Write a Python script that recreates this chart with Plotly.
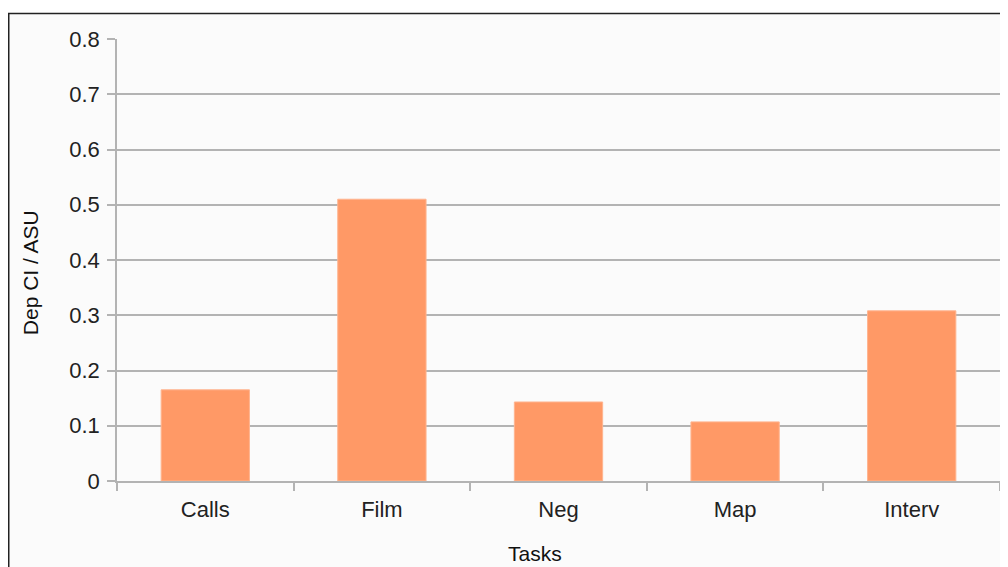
import plotly.graph_objects as go

tasks = ["Calls", "Film", "Neg", "Map", "Interv"]
dep_ci_asu = [0.165, 0.510, 0.143, 0.107, 0.308]
y_ticks = [0, 0.1, 0.2, 0.3, 0.4, 0.5, 0.6, 0.7, 0.8]
y_tick_labels = ["0", "0.1", "0.2", "0.3", "0.4", "0.5", "0.6", "0.7", "0.8"]

FONT = "Liberation Sans, Arial, sans-serif"
GRID = "#b3b3b3"

fig = go.Figure()
fig.add_trace(go.Bar(
    x=tasks, y=dep_ci_asu, width=0.5,
    marker=dict(color="#ff9966", line=dict(color="#ffb48f", width=1)),
))

# page has an 8px body margin, so figure coords = screen coords - 8
OFF = 8
W, H = 1000, 559
ml, mr, mt, mb = 117 - OFF, 6, 39 - OFF, 86
pw, ph = W - ml - mr, H - mt - mb

def px_x(p):
    return (p - OFF - ml) / pw

def px_y(p):
    return (H - mb - (p - OFF)) / ph

fig.update_layout(
    width=W, height=H,
    margin=dict(l=ml, r=mr, t=mt, b=mb),
    paper_bgcolor="white",
    plot_bgcolor="#fcfcfc",
    showlegend=False,
    font=dict(family=FONT, size=22, color="#222222"),
    xaxis=dict(
        type="category", range=[-0.5, 4.5],
        showline=True, linecolor=GRID, linewidth=1.5,
        ticks="outside", tickson="boundaries", ticklen=8,
        tickcolor=GRID, tickwidth=1.5,
        showgrid=False, ticklabelstandoff=8,
        tickfont=dict(family=FONT, size=22, color="#222222"),
    ),
    yaxis=dict(
        range=[0, 0.8], tickvals=y_ticks, ticktext=y_tick_labels,
        showline=True, mirror=True, linecolor=GRID, linewidth=1.5,
        ticks="outside", ticklen=8, tickcolor=GRID, tickwidth=1.5,
        showgrid=True, gridcolor=GRID, gridwidth=1.5,
        zeroline=False, ticklabelstandoff=3,
        tickfont=dict(family=FONT, size=22, color="#222222"),
    ),
    shapes=[dict(
        type="rect", xref="paper", yref="paper", layer="below",
        x0=px_x(8.5), x1=px_x(1100), y0=px_y(700), y1=px_y(13.5),
        line=dict(color="#222222", width=1.5), fillcolor="#fbfbfb",
    )],
    annotations=[
        dict(text="Tasks", xref="paper", yref="paper",
             x=px_x(536), y=px_y(553), showarrow=False,
             xanchor="center", yanchor="middle",
             font=dict(family=FONT, size=21, color="#111111")),
        dict(text="Dep CI / ASU", xref="paper", yref="paper",
             x=px_x(30), y=px_y(273), showarrow=False, textangle=-90,
             xanchor="center", yanchor="middle",
             font=dict(family=FONT, size=21, color="#111111")),
    ],
)

fig.write_html("out.html")
